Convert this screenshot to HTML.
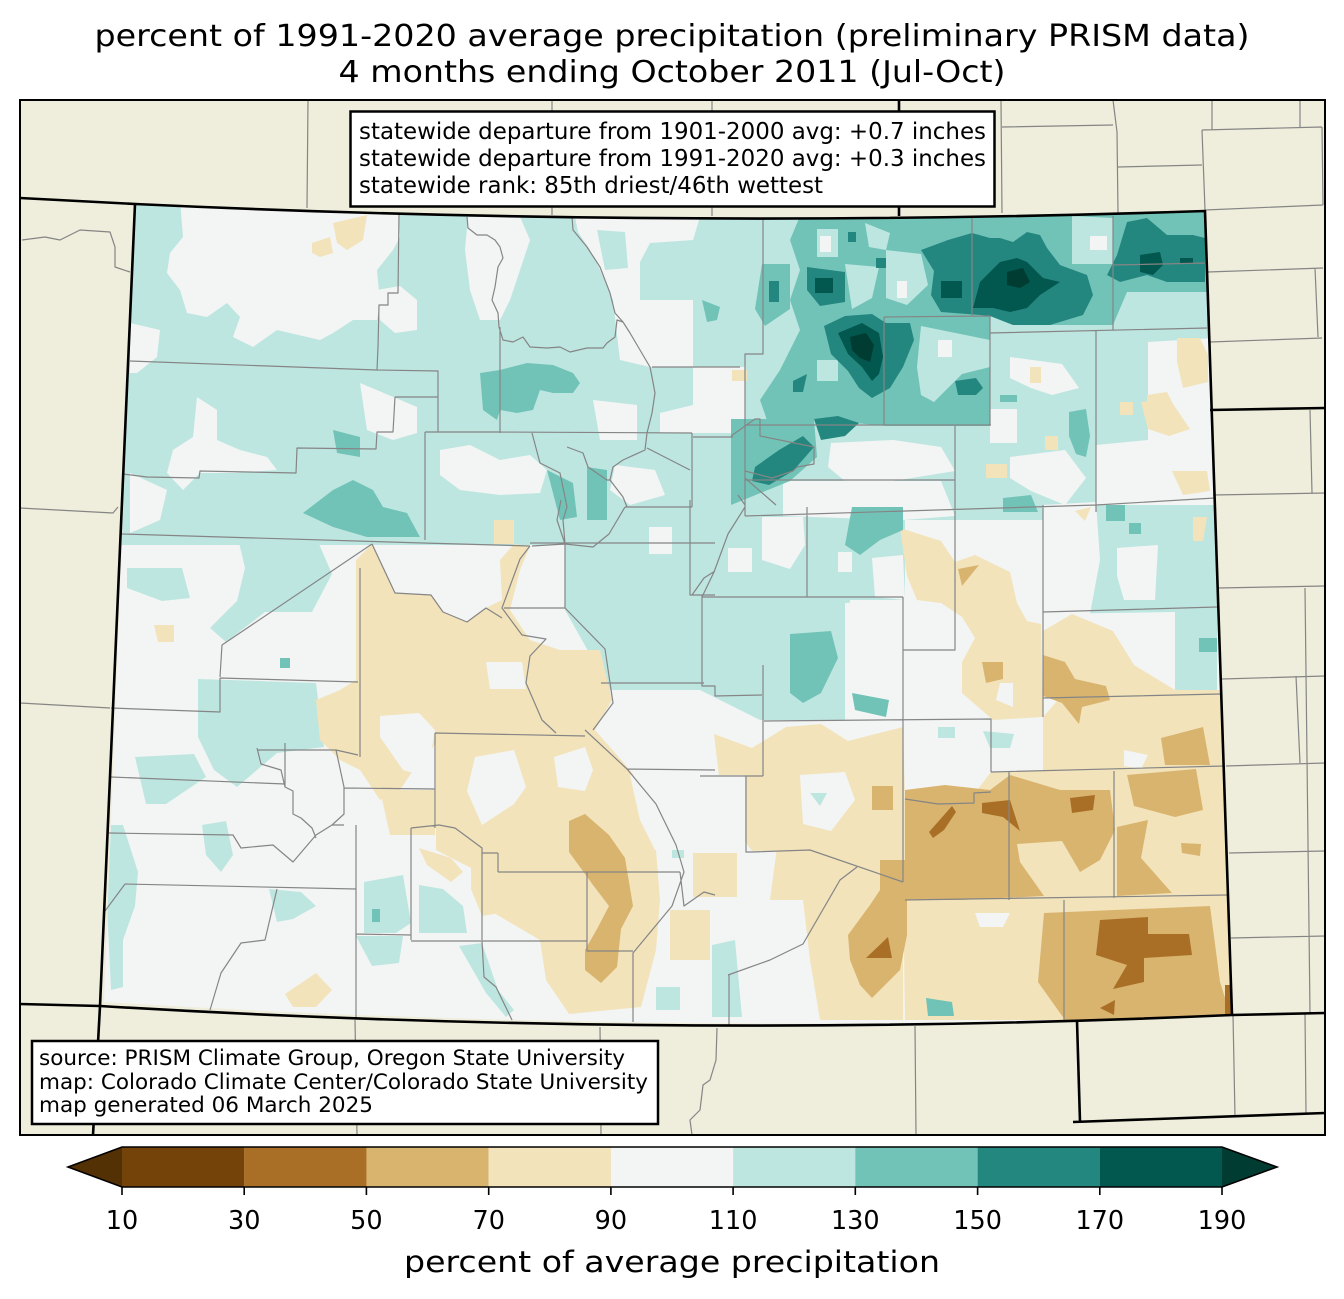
<!DOCTYPE html>
<html><head><meta charset="utf-8"><style>
html,body{margin:0;padding:0;background:#fff;}
svg{display:block;}
.t{font-family:"DejaVu Sans","Liberation Sans",sans-serif;fill:#000;}
.lt{fill:#bee6e1}.wh{fill:#f3f5f4}.tn{fill:#f2e3bb}.mt{fill:#d9b46f}.db{fill:#aa6f26}
.m1{fill:#72c3b7}.m2{fill:#238780}.m3{fill:#02574f}.m4{fill:#013c32}
.cl{fill:none;stroke:#858585;stroke-width:1.2;stroke-linejoin:round}
.sb{fill:none;stroke:#000;stroke-width:2.6;stroke-linejoin:round}
</style></head><body>
<svg width="1344" height="1299" viewBox="0 0 1344 1299" xmlns="http://www.w3.org/2000/svg">
<rect width="1344" height="1299" fill="#fff"/>
<rect x="20" y="100" width="1305" height="1035" fill="#efeddb"/>
<defs><clipPath id="co"><path d="M135,204 Q670,229 1205,211 L1232,1015 Q666,1037 104,1002 Z"/></clipPath></defs>
<g clip-path="url(#co)">
<rect x="0" y="0" width="1344" height="1299" class="wh"/>
<!-- light teal -->
<polygon class="lt" points="120,200 770,200 770,500 905,505 905,600 850,600 845,720 760,720 700,690 610,690 565,610 565,545 120,545"/>
<polygon class="lt" points="740,200 1215,200 1215,440 1150,450 1100,470 1100,520 955,520 745,520"/>
<polygon class="lt" points="1096,500 1217,495 1217,690 1175,690 1170,615 1043,615 1043,520"/>
<polygon class="lt" points="111,825 123,825 138,872 135,906 123,940 123,987 111,990 107,906"/>
<polygon class="lt" points="202,825 226,821 233,855 221,872 206,855"/>
<polygon class="lt" points="364,882 403,875 411,923 396,933 364,933"/>
<polygon class="lt" points="419,885 443,889 463,906 467,933 419,933"/>
<polygon class="lt" points="356,936 403,936 399,963 372,966"/>
<polygon class="lt" points="459,946 482,943 498,990 514,1010 506,1017 486,993"/>
<polygon class="lt" points="269,889 301,892 316,906 293,919 277,922"/>
<polygon class="lt" points="656,987 680,987 680,1010 656,1010"/>
<polygon class="lt" points="672,845 684,845 684,858 672,858"/>
<polygon class="lt" points="127,568 182,568 190,598 162,601 127,588"/>
<polygon class="lt" points="237,534 316,537 332,574 312,612 265,612 226,642 210,628 237,601 245,568"/>
<polygon class="lt" points="198,679 316,683 324,747 277,753 237,787 214,770 198,737"/>
<polygon class="lt" points="135,757 194,754 206,777 166,804 146,804"/>
<polygon class="lt" points="915,988 962,988 966,1016 915,1016"/>
<!-- white holes -->
<polygon class="wh" points="180,200 183,237 170,253 167,273 180,290 187,313 207,317 227,303 240,317 233,337 253,347 277,330 290,333 320,340 333,333 353,320 377,320 380,303 377,270 393,250 400,237 398,200"/>
<polygon class="wh" points="130,323 160,330 157,357 137,373 130,373"/>
<polygon class="wh" points="377,290 400,286 417,300 417,330 395,333 380,320"/>
<polygon class="wh" points="197,397 217,410 217,440 240,450 267,457 277,470 233,473 200,473 183,490 167,473 173,450 193,437"/>
<polygon class="wh" points="360,383 417,407 417,433 393,440 367,430"/>
<polygon class="wh" points="130,473 167,490 160,520 130,533"/>
<polygon class="wh" points="468,217 520,217 530,240 520,270 510,300 500,320 480,320 470,290 465,250"/>
<polygon class="wh" points="575,217 700,217 693,240 650,243 640,262 640,300 693,300 693,367 650,367 620,360 613,300 600,270 590,250 578,232"/>
<polygon class="lt" points="597,230 625,232 628,268 605,270"/>
<polygon class="wh" points="693,367 745,367 745,433 660,433 660,413 693,405"/>
<polygon class="wh" points="593,400 637,405 637,440 600,440"/>
<polygon class="wh" points="440,450 470,445 500,460 530,455 547,470 540,493 500,495 460,490 440,475"/>
<polygon class="wh" points="615,465 655,470 665,495 630,505 610,490"/>
<polygon class="wh" points="649,527 672,527 672,554 649,554"/>
<polygon class="wh" points="728,548 752,548 752,572 728,572"/>
<polygon class="wh" points="762,517 803,517 805,545 790,569 762,560"/>
<polygon class="wh" points="838,552 852,552 852,572 838,572"/>
<polygon class="wh" points="872,558 903,555 905,600 875,597"/>
<polygon class="wh" points="845,603 905,600 905,720 845,720"/>
<polygon class="wh" points="831,443 893,440 941,447 955,471 893,481 845,481 828,467"/>
<polygon class="wh" points="783,481 941,481 955,516 903,520 783,516"/>
<polygon class="wh" points="1010,357 1062,364 1079,388 1052,395 1031,388 1010,378"/>
<polygon class="wh" points="990,409 1017,409 1017,443 990,443"/>
<polygon class="wh" points="1010,457 1065,450 1086,478 1065,505 1031,491 1010,478"/>
<polygon class="wh" points="1148,342 1215,338 1215,505 1096,505 1096,445 1148,440"/>
<polygon class="wh" points="1117,548 1158,545 1155,600 1124,600 1117,576"/>
<polygon class="wh" points="1043,505 1096,502 1100,560 1090,614 1043,614"/>
<polygon class="wh" points="1043,614 1175,612 1175,695 1043,700"/>
<!-- tan -->
<polygon class="tn" points="356,560 372,544 395,593 431,595 443,612 467,622 486,608 502,600 500,560 514,544 530,546 520,570 510,610 530,640 545,645 560,650 600,650 612,700 595,730 630,770 655,805 600,800 580,770 560,750 540,760 490,760 440,740 420,760 400,790 380,800 360,770 340,760 320,740 316,700 340,690 356,680"/>
<polygon class="tn" points="436,733 585,733 610,760 640,800 656,850 660,900 656,950 641,1007 569,1014 546,980 540,940 482,906 475,870 436,850"/>
<polygon class="tn" points="380,790 435,790 435,835 390,835"/>
<polygon class="tn" points="900,528 941,541 955,562 975,555 1010,572 1017,603 1027,621 1041,624 1043,717 993,720 962,693 962,662 975,638 962,617 941,603 917,600 907,576"/>
<polygon class="tn" points="1043,631 1072,614 1113,631 1134,665 1110,683 1058,700 1043,693"/>
<polygon class="tn" points="905,720 991,719 991,772 1043,770 1043,717 1058,700 1110,683 1134,665 1175,690 1220,690 1235,1020 905,1020 903,880 810,850 752,851 734,827 721,793 714,734 752,748 786,727 821,724 848,741 903,727"/>
<polygon class="tn" points="777,847 840,850 880,870 903,880 903,1020 820,1020 810,960 803,900 770,900"/>
<polygon class="tn" points="693,853 737,853 737,897 693,897"/>
<polygon class="tn" points="670,910 710,910 710,960 670,960"/>
<polygon class="tn" points="154,625 174,625 174,642 158,642"/>
<polygon class="tn" points="285,994 316,973 332,990 316,1007 293,1007"/>
<polygon class="tn" points="419,848 451,858 463,872 451,882 427,865"/>
<polygon class="tn" points="471,855 498,872 506,912 482,916 471,889"/>
<polygon class="tn" points="312,243 330,237 333,253 320,257 312,253"/>
<polygon class="tn" points="333,223 367,215 363,240 347,250 337,243"/>
<polygon class="tn" points="1177,338 1200,338 1208,355 1208,382 1183,388 1177,362"/>
<polygon class="tn" points="1120,402 1133,402 1133,415 1120,415"/>
<polygon class="tn" points="1147,395 1167,392 1177,412 1160,422 1147,415"/>
<polygon class="tn" points="1141,402 1169,398 1190,429 1169,436 1148,429"/>
<polygon class="tn" points="1172,471 1207,471 1210,491 1183,495"/>
<polygon class="tn" points="1045,436 1058,436 1058,450 1045,450"/>
<polygon class="tn" points="986,464 1007,464 1007,478 986,478"/>
<polygon class="tn" points="1030,367 1041,367 1041,383 1030,383"/>
<polygon class="tn" points="494,520 514,520 514,544 494,544"/>
<polygon class="tn" points="732,370 747,370 747,381 732,381"/>
<polygon class="tn" points="1075,511 1091,507 1085,521"/>
<polygon class="tn" points="1193,517 1207,517 1203,541 1193,541"/>
<!-- white holes in tan -->
<polygon class="wh" points="380,716 419,713 435,730 427,777 403,770 380,737"/>
<polygon class="wh" points="475,757 514,750 526,787 514,804 482,825 467,791"/>
<polygon class="wh" points="554,757 585,747 593,770 585,791 558,787"/>
<polygon class="wh" points="486,662 522,662 526,689 490,689"/>
<polygon class="wh" points="630,775 685,775 690,850 655,850 640,820"/>
<polygon class="wh" points="800,775 845,772 855,800 831,831 803,824"/>
<polygon class="wh" points="700,775 745,775 745,845 720,830 700,845"/>
<polygon class="wh" points="1124,750 1148,755 1141,769 1124,766"/>
<polygon class="wh" points="975,913 1010,913 1003,927 980,927"/>
<polygon class="wh" points="903,720 991,719 991,772 975,793 938,804 905,800"/>
<polygon class="wh" points="1000,683 1013,683 1013,707 996,700"/>
<polygon class="lt" points="810,793 827,793 820,806"/>
<polygon class="lt" points="983,731 1014,734 1010,748 990,748"/>
<polygon class="lt" points="938,727 955,727 955,738 938,738"/>
<polygon class="lt" points="712,945 735,940 742,1017 712,1017"/>
<!-- medium tan -->
<polygon class="mt" points="569,821 585,814 609,835 625,858 633,906 621,929 617,967 601,983 585,970 585,950 597,929 609,906 593,885 569,852"/>
<polygon class="mt" points="905,790 945,785 990,790 1010,775 1060,790 1110,790 1115,830 1100,860 1080,872 1062,841 1017,844 1020,862 1044,896 960,900 905,900"/>
<polygon class="mt" points="1127,775 1196,769 1203,810 1175,817 1134,806"/>
<polygon class="mt" points="1117,827 1148,820 1141,858 1172,893 1117,896"/>
<polygon class="mt" points="1161,738 1203,727 1210,765 1165,765"/>
<polygon class="mt" points="1043,655 1065,662 1075,679 1106,686 1110,700 1082,707 1079,724 1062,703 1043,696"/>
<polygon class="mt" points="982,662 1003,662 1003,679 986,683"/>
<polygon class="mt" points="958,569 979,565 962,586"/>
<polygon class="mt" points="880,860 907,860 907,935 900,970 872,998 860,985 850,960 848,935 870,905 880,890"/>
<polygon class="mt" points="872,786 893,786 893,810 872,810"/>
<polygon class="mt" points="1044,913 1210,906 1220,982 1232,1020 1065,1020 1038,982"/>
<polygon class="mt" points="1181,843 1201,844 1200,856 1182,853"/>
<!-- dark brown -->
<polygon class="db" points="982,803 1010,800 1020,831 1003,817 982,813"/>
<polygon class="db" points="929,832 952,806 956,812 944,830 933,838"/>
<polygon class="db" points="1070,798 1095,795 1093,810 1072,813"/>
<polygon class="db" points="1100,920 1148,917 1148,934 1189,934 1192,955 1144,958 1144,982 1113,989 1127,965 1096,955"/>
<polygon class="db" points="866,958 888,937 892,958"/>
<polygon class="db" points="1225,985 1235,985 1235,1020 1225,1020"/>
<polygon class="db" points="1100,1008 1115,1000 1114,1015"/>
<!-- medium teal -->
<polygon class="m1" points="800,216 1205,212 1207,292 1127,292 1113,325 1050,325 990,316 990,340 921,326 917,367 921,395 934,402 948,388 962,374 990,367 990,426 886,426 814,419 769,426 760,400 780,370 800,330 790,300 800,270 790,240"/>
<polygon class="m1" points="762,264 790,264 790,309 765,326 755,309"/>
<polygon class="m1" points="731,419 814,419 817,457 790,481 731,505"/>
<polygon class="m1" points="480,373 500,370 527,363 553,365 573,373 580,383 573,393 553,393 540,390 533,410 517,413 500,410 497,420 483,410"/>
<polygon class="m1" points="333,430 360,437 360,457 337,453"/>
<polygon class="m1" points="303,513 333,490 353,480 373,490 383,507 407,513 420,537 367,537 333,527"/>
<polygon class="m1" points="547,470 573,483 577,517 560,520"/>
<polygon class="m1" points="587,467 607,470 607,520 587,520"/>
<polygon class="m1" points="790,634 831,631 838,658 821,693 803,703 790,693"/>
<polygon class="m1" points="852,693 889,700 886,717 855,710"/>
<polygon class="m1" points="852,507 903,507 903,530 880,540 860,555 845,545"/>
<polygon class="m1" points="1106,505 1125,505 1125,521 1106,521"/>
<polygon class="m1" points="1129,523 1141,523 1141,534 1129,534"/>
<polygon class="m1" points="1199,638 1217,638 1217,652 1199,652"/>
<polygon class="m1" points="1069,412 1086,409 1090,436 1086,457 1076,454 1069,436"/>
<polygon class="m1" points="1003,498 1031,495 1038,512 1003,512"/>
<polygon class="m1" points="1000,395 1017,395 1017,402 1000,402"/>
<polygon class="m1" points="926,998 952,1002 954,1016 928,1016"/>
<polygon class="m1" points="702,300 720,307 717,320 707,322"/>
<polygon class="m1" points="280,658 290,658 290,668 280,668"/>
<polygon class="m1" points="372,909 380,909 380,922 372,922"/>
<!-- light teal holes in medium -->
<polygon class="lt" points="865,223 890,233 886,250 869,247"/>
<polygon class="lt" points="845,264 879,267 872,298 852,309"/>
<polygon class="lt" points="886,250 921,254 928,285 907,305 886,298"/>
<polygon class="lt" points="817,229 838,229 838,257 817,257"/>
<polygon class="lt" points="1072,216 1113,218 1113,264 1072,264"/>
<polygon class="lt" points="817,360 838,360 838,381 817,381"/>
<polygon class="wh" points="1090,236 1107,236 1107,250 1090,250"/>
<polygon class="wh" points="820,236 831,236 831,252 820,252"/>
<polygon class="wh" points="897,281 907,281 907,298 897,298"/>
<polygon class="wh" points="938,340 952,340 952,357 938,357"/>
<!-- 150-170 -->
<polygon class="m2" points="921,250 948,240 972,233 990,238 1000,238 1013,242 1027,232 1040,235 1047,248 1060,265 1087,275 1093,295 1083,315 1050,325 1013,325 990,316 980,315 941,312 931,295 934,271"/>
<polygon class="m2" points="824,326 845,316 872,314 886,323 910,323 914,340 903,367 890,388 872,398 859,388 848,371 831,354"/>
<polygon class="m2" points="807,267 845,272 845,302 820,306 807,290"/>
<polygon class="m2" points="1127,222 1147,218 1167,235 1193,235 1205,238 1205,282 1167,282 1147,275 1120,282 1107,275 1117,255"/>
<polygon class="m2" points="755,467 779,450 803,436 814,447 793,471 769,485 752,481"/>
<polygon class="m2" points="814,419 838,416 859,423 845,436 821,440"/>
<polygon class="m2" points="955,381 976,378 983,388 976,395 958,395"/>
<polygon class="m2" points="793,381 807,374 803,392 793,392"/>
<polygon class="m2" points="769,281 779,281 779,302 769,302"/>
<polygon class="m2" points="848,232 856,232 856,242 848,242"/>
<polygon class="m2" points="876,258 886,258 886,268 876,268"/>
<!-- 170-190 -->
<polygon class="m3" points="973,308 980,282 1000,262 1017,258 1027,262 1043,278 1060,282 1040,295 1027,308 1010,312 993,308"/>
<polygon class="m3" points="838,333 862,323 879,333 883,357 879,374 872,381 862,367 848,354"/>
<polygon class="m3" points="815,278 833,278 833,293 815,293"/>
<polygon class="m3" points="941,281 962,281 962,298 941,298"/>
<polygon class="m3" points="1140,255 1160,252 1163,265 1153,275 1140,272"/>
<polygon class="m3" points="1180,258 1193,258 1193,263 1180,263"/>
<!-- >190 -->
<polygon class="m4" points="1007,272 1023,268 1030,282 1020,288 1007,285"/>
<polygon class="m4" points="850,337 866,333 874,345 870,362 860,358 852,350"/>
</g>
<!-- county lines inside CO -->
<path class="cl" d="M399,213 L398,293 L388,293 L388,305 L379,305 L378,347 L377,370
M130,361 L377,370 L438,371 L438,432
M395,397 L438,397
M395,397 L393,432 L377,432 L376,449 L297,448 L296,473 L200,471 L199,478 L147,477 L123,474
M425,432 L425,540 M425,432 L438,432
M122,534 L423,543 L530,546
M467,217 L468,228 L477,235 L487,235 L495,240 L500,247 L503,258 L498,267 L495,287 L492,300 L498,313 L499,327 L503,340 L513,342 L523,337 L530,347 L547,348 L560,347 L570,352 L587,348 L603,348 L607,343 L615,337 L617,320 L623,322 L615,313 L610,293 L600,267 L587,247 L573,230 L572,217
M500,327 L500,433
M425,432 L500,432 L692,433
M623,322 L630,333 L650,367 L652,377 L655,393 L652,413 L647,433 L645,450 L623,460 L613,467 L610,480 L623,497 L627,507
M652,367 L740,367
M692,433 L692,507 M625,507 L692,507
M647,448 L690,470
M532,433 L540,463 L560,473 L567,507 L563,520 L565,544
M567,447 L583,453 L588,467 L607,480 L610,480
M693,437 L733,437
M763,219 L763,354 L745,354 L745,516
M972,216 L972,316
M884,317 L990,316
M884,317 L884,425
M745,425 L991,425
M990,316 L990,425
M990,333 L1207,328
M1113,216 L1113,330 M1113,265 L1207,263
M1096,331 L1096,512
M745,516 L1096,505 L1215,498
M955,426 L955,516
M745,480 L955,480
M731,436 L755,419 L760,419 L760,436 L814,447 L814,464 L797,467 L793,471 L772,478 L745,471
M745,478 L776,505 M738,495 L745,505
M807,507 L807,597
M955,505 L955,650 L903,650
M1043,505 L1043,717 M1043,612 L1217,607
M702,597 L903,597
M903,597 L903,882
M764,721 L991,719 L991,772
M1043,698 L1220,694
M991,772 L1224,766
M1009,772 L1009,900
M1114,771 L1114,898
M905,900 L1227,895
M1064,900 L1064,1022
M702,595 L702,686 L715,686 L715,696 L762,695 M763,665 L763,776
M700,776 L763,776 M746,776 L746,852 L752,852 L810,850 L903,882
M905,799 L938,804 L974,803 L974,793 L991,792
M857,867 L840,880 L803,944 L770,960 L728,975 M729,975 L729,1025
M372,544 L222,645 L220,677 M220,678 L358,682 M111,708 L220,712 L220,678
M360,568 L360,757
M257,750 L336,750 L358,755
M111,777 L285,784
M344,788 L435,789
M435,733 L435,828 M435,733 L585,736
M585,730 L627,769 L656,804 L676,845 L684,872 L672,906 L633,953 L633,1022
M627,769 L715,770
M601,683 L704,683 M690,500 L690,595 L715,595
M530,546 L520,559 L502,608 L522,635 L546,639 L530,656 L526,683 L542,720 L556,733
M372,544 L395,593 L431,595 L443,612 L467,622 L486,608 L502,618
M565,608 L605,649 L613,703 L593,730
M565,544 L565,608 M504,608 L565,608
M530,543 L715,543
M109,833 L233,835 L241,848 L273,845 L293,862 L316,835 L332,825 L344,825
M356,825 L356,1018
M125,884 L356,889 M125,884 L105,911
M277,889 L265,940 L241,943 L221,973 L210,1010
M356,934 L411,935 M411,828 L411,940 M411,828 L439,825 L455,828 L482,848 L482,940 M411,941 L587,941
M498,872 L680,872 M498,853 L498,872 M482,853 L498,853
M587,872 L587,951 L633,951
M482,941 L484,977 L496,987 L512,1020
M680,872 L684,906 L704,892 L715,895
M285,743 L285,787 L293,791 L293,814 L301,818 L312,828 L316,838
M257,748 L261,764 L281,770 L285,787
M344,787 L344,814 L332,825 M336,750 L344,787
M532,546 L565,544 L593,547 L609,534 L625,507 M561,500 L557,520 L565,544
M692,595 L704,578 L715,571
M745,507 L728,534 L714,572 L702,597"/>
<!-- neighbor lines -->
<path class="cl" d="M308,100 L307,208 M552,100 L552,215 M712,100 L712,216
M1001,100 L1002,213 M1002,127 L1113,125 M1113,100 L1117,132 L1118,213 M1118,167 L1202,165
M1212,100 L1212,130 M1202,130 L1322,127 M1202,130 L1205,210 M1300,100 L1300,127 M1322,127 L1323,205
M1205,210 L1323,205 M1208,272 L1323,268 M1315,268 L1318,337 M1210,342 L1322,338
M1213,495 L1325,493 M1218,588 L1325,586 M1222,679 L1325,676 M1226,766 L1325,763 M1229,853 L1325,851 M1231,938 L1325,936
M1310,410 L1312,493 M1305,588 L1310,1013 M1296,676 L1300,763
M1233,1015 L1235,1117 M1305,1013 L1306,1113
M355,1020 L357,1135 M600,1027 L601,1135 M717,1028 L716,1060 L710,1080 L703,1085 L700,1110 L690,1120 L692,1135 M915,1026 L916,1135
M22,240 L45,237 L60,240 L80,230 L110,232 L115,247 L115,267 L130,272
M20,508 L113,513 L118,507 M20,703 L110,708"/>
<!-- state borders -->
<path class="sb" d="M135,204 Q670,229 1205,211 L1232,1015 Q666,1040 100,1006 Z"/>
<path class="sb" d="M20,198 L135,204 M899,100 L899,216 M1210,410 L1325,408 M100,1006 L93,1135 M20,1004 L100,1006 M1232,1015 L1325,1013 M1077,1021 L1080,1122 M1073,1122 L1325,1113"/>
<rect x="20" y="100" width="1305" height="1035" fill="none" stroke="#000" stroke-width="2"/>
<!-- top text box -->
<rect x="350.5" y="111.5" width="644" height="95" fill="#fff" stroke="#000" stroke-width="2.5"/>
<text class="t" x="359" y="139" font-size="23" textLength="627" lengthAdjust="spacingAndGlyphs">statewide departure from 1901-2000 avg: +0.7 inches</text>
<text class="t" x="359" y="166" font-size="23" textLength="627" lengthAdjust="spacingAndGlyphs">statewide departure from 1991-2020 avg: +0.3 inches</text>
<text class="t" x="359" y="193" font-size="23" textLength="464" lengthAdjust="spacingAndGlyphs">statewide rank: 85th driest/46th wettest</text>
<!-- bottom text box -->
<rect x="32" y="1041" width="626" height="83" fill="#fff" stroke="#000" stroke-width="2.5"/>
<text class="t" x="39" y="1065" font-size="21" textLength="586" lengthAdjust="spacingAndGlyphs">source: PRISM Climate Group, Oregon State University</text>
<text class="t" x="39" y="1089" font-size="21" textLength="609" lengthAdjust="spacingAndGlyphs">map: Colorado Climate Center/Colorado State University</text>
<text class="t" x="39" y="1112" font-size="21" textLength="334" lengthAdjust="spacingAndGlyphs">map generated 06 March 2025</text>
<!-- title -->
<text class="t" x="672" y="46" font-size="30" text-anchor="middle" textLength="1155" lengthAdjust="spacingAndGlyphs">percent of 1991-2020 average precipitation (preliminary PRISM data)</text>
<text class="t" x="672" y="82" font-size="30" text-anchor="middle" textLength="667" lengthAdjust="spacingAndGlyphs">4 months ending October 2011 (Jul-Oct)</text>
<!-- colorbar -->
<polygon points="122,1147 68,1167 122,1187" fill="#543005"/>
<polygon points="1222,1147 1277,1167 1222,1187" fill="#013c32"/>
<rect x="122" y="1147" width="122.3" height="40" fill="#74430a"/>
<rect x="244.2" y="1147" width="122.3" height="40" fill="#aa6f26"/>
<rect x="366.4" y="1147" width="122.3" height="40" fill="#d9b46f"/>
<rect x="488.7" y="1147" width="122.3" height="40" fill="#f2e3bb"/>
<rect x="610.9" y="1147" width="122.3" height="40" fill="#f3f5f4"/>
<rect x="733.1" y="1147" width="122.3" height="40" fill="#bee6e1"/>
<rect x="855.3" y="1147" width="122.3" height="40" fill="#72c3b7"/>
<rect x="977.6" y="1147" width="122.3" height="40" fill="#238780"/>
<rect x="1099.8" y="1147" width="122.2" height="40" fill="#02574f"/>
<polygon points="122,1147 1222,1147 1277,1167 1222,1187 122,1187 68,1167" fill="none" stroke="#000" stroke-width="1.6"/>
<path d="M122,1187 V1195 M244.2,1187 V1195 M366.4,1187 V1195 M488.7,1187 V1195 M610.9,1187 V1195 M733.1,1187 V1195 M855.3,1187 V1195 M977.6,1187 V1195 M1099.8,1187 V1195 M1222,1187 V1195" stroke="#000" stroke-width="1.6"/>
<g class="t" font-size="25.5" text-anchor="middle">
<text x="122" y="1229">10</text><text x="244.2" y="1229">30</text><text x="366.4" y="1229">50</text><text x="488.7" y="1229">70</text><text x="610.9" y="1229">90</text>
<text x="733.1" y="1229">110</text><text x="855.3" y="1229">130</text><text x="977.6" y="1229">150</text><text x="1099.8" y="1229">170</text><text x="1222" y="1229">190</text>
</g>
<text class="t" x="672" y="1272" font-size="29" text-anchor="middle" textLength="536" lengthAdjust="spacingAndGlyphs">percent of average precipitation</text>
</svg>
</body></html>
